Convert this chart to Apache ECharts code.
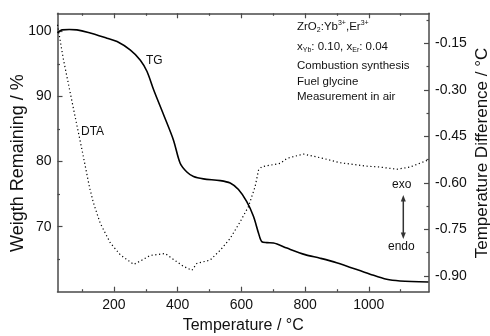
<!DOCTYPE html>
<html>
<head>
<meta charset="utf-8">
<style>
  html, body { margin: 0; padding: 0; background: #fff; }
  #chart { width: 490px; height: 336px; }
</style>
<script src="https://cdn.jsdelivr.net/npm/echarts@6/dist/echarts.min.js"></script>
</head>
<body>
<div id="chart"></div>
<script>
// TG: weight remaining (%) against temperature (°C)
var tgTemp = [23, 37, 60, 84, 120, 178, 210, 251, 283, 304, 325, 356, 387, 408, 429, 450, 481, 534, 565, 591, 617, 638, 654, 664, 680, 701, 743, 800, 847, 899, 1004, 1056, 1098, 1187];
var tgWeight = [99.8, 100.25, 100.3, 100.25, 99.85, 98.98, 98.46, 97.18, 95.6, 93.85, 91.0, 87.2, 83.3, 79.75, 78.4, 77.7, 77.35, 77.08, 76.7, 75.7, 73.85, 71.6, 69.0, 67.7, 67.55, 67.5, 66.7, 65.7, 65.15, 64.45, 62.7, 61.9, 61.65, 61.5];

// DTA: temperature difference (°C) against temperature (°C)
var dtaTemp = [23, 42, 74, 100, 124, 136, 157, 189, 220, 262, 283, 314, 361, 387, 418, 445, 460, 502, 534, 565, 596, 622, 643, 654, 664, 690, 722, 743, 795, 857, 910, 993, 1035, 1088, 1129, 1187];
var dtaDiff = [-0.09, -0.204, -0.365, -0.494, -0.617, -0.665, -0.73, -0.794, -0.832, -0.863, -0.852, -0.834, -0.828, -0.847, -0.869, -0.882, -0.86, -0.849, -0.817, -0.779, -0.726, -0.677, -0.613, -0.559, -0.548, -0.543, -0.537, -0.521, -0.507, -0.521, -0.535, -0.546, -0.549, -0.556, -0.549, -0.526];

// tick positions
var xMajorTicks = [200, 400, 600, 800, 1000];
var xMinorTicks = [100, 300, 500, 700, 900, 1100];
var yLeftMajorTicks = [70, 80, 90, 100];
var yLeftMinorTicks = [65, 75, 85, 95];
var yRightMajorTicks = [-0.90, -0.75, -0.60, -0.45, -0.30, -0.15];
var yRightMinorTicks = [-0.825, -0.675, -0.525, -0.375, -0.225, -0.075];

var FONT = 'Liberation Sans, Arial, Helvetica, sans-serif';
var AXIS_COLOR = '#4a4a4a';
var TEXT_COLOR = '#111';
var X_MIN = 23, X_MAX = 1189;
var YL_MIN = 60, YL_MAX = 102.8;
var YR_MIN = -0.951, YR_MAX = -0.053;

function zip(a, b) {
  var out = [];
  for (var i = 0; i < a.length; i++) out.push([a[i], b[i]]);
  return out;
}

function xAxisDef(position, ticks, len, withLine, withLabels, name) {
  return {
    type: 'value', position: position, min: X_MIN, max: X_MAX,
    name: name || '', nameLocation: 'middle', nameGap: 26,
    nameTextStyle: { fontFamily: FONT, fontSize: 16, color: TEXT_COLOR },
    axisLine: { show: withLine, onZero: false, lineStyle: { color: AXIS_COLOR, width: 1.5 } },
    axisTick: { show: true, inside: true, length: len, customValues: ticks, lineStyle: { color: AXIS_COLOR, width: 1.2 } },
    axisLabel: { show: withLabels, customValues: xMajorTicks, margin: 6, fontFamily: FONT, fontSize: 14, color: TEXT_COLOR,
                 formatter: function (v) { return String(v); } },
    splitLine: { show: false }
  };
}

function yAxisDef(position, min, max, ticks, labels, len, withLine, fmt) {
  return {
    type: 'value', position: position, min: min, max: max,
    axisLine: { show: withLine, onZero: false, lineStyle: { color: AXIS_COLOR, width: 1.5 } },
    axisTick: { show: true, inside: true, length: len, customValues: ticks, lineStyle: { color: AXIS_COLOR, width: 1.2 } },
    axisLabel: labels ? { show: true, customValues: labels, margin: 6, fontFamily: FONT, fontSize: 14, color: TEXT_COLOR, formatter: fmt } : { show: false },
    splitLine: { show: false }
  };
}

function label(x, y, text, size, extra) {
  var style = { text: text, font: size + 'px ' + FONT, fill: TEXT_COLOR, textAlign: 'left', textVerticalAlign: 'middle' };
  if (extra) for (var k in extra) style[k] = extra[k];
  return { type: 'text', x: x, y: y, style: style };
}

var richInfo = {
  m: { fontFamily: FONT, fontSize: 11.5, lineHeight: 14, fill: TEXT_COLOR },
  sb: { fontFamily: FONT, fontSize: 7, lineHeight: 7, verticalAlign: 'bottom', padding: [0, 0, 0, 0], fill: TEXT_COLOR },
  sp: { fontFamily: FONT, fontSize: 7, lineHeight: 7, verticalAlign: 'top', padding: [0, 0, 0, 0], fill: TEXT_COLOR }
};

var chart = echarts.init(document.getElementById('chart'), null, { renderer: 'canvas' });

var option = {
  animation: false,
  backgroundColor: '#fff',
  grid: { left: 57.5, right: 61, top: 13.3, bottom: 44.3, containLabel: false, outerBoundsMode: 'none' },
  xAxis: [
    xAxisDef('bottom', xMajorTicks, 5, true, true, 'Temperature / \u00B0C'),
    xAxisDef('bottom', xMinorTicks, 2.5, false, false),
    xAxisDef('top', xMajorTicks, 5, true, false),
    xAxisDef('top', xMinorTicks, 2.5, false, false)
  ],
  yAxis: [
    yAxisDef('left', YL_MIN, YL_MAX, yLeftMajorTicks, yLeftMajorTicks, 5, true, function (v) { return String(v); }),
    yAxisDef('left', YL_MIN, YL_MAX, yLeftMinorTicks, null, 2.5, false),
    yAxisDef('right', YR_MIN, YR_MAX, yRightMajorTicks, yRightMajorTicks, 5, true, function (v) { return v.toFixed(2); }),
    yAxisDef('right', YR_MIN, YR_MAX, yRightMinorTicks, null, 2.5, false)
  ],
  series: [
    {
      name: 'TG', type: 'line', xAxisIndex: 0, yAxisIndex: 0,
      data: zip(tgTemp, tgWeight), smooth: 0.3, symbol: 'none',
      lineStyle: { color: '#000', width: 1.6 }
    },
    {
      name: 'DTA', type: 'line', xAxisIndex: 0, yAxisIndex: 2,
      data: zip(dtaTemp, dtaDiff), smooth: false, symbol: 'none',
      lineStyle: { color: '#000', width: 1.2, type: [1.2, 2.6] }
    }
  ],
  graphic: [
    // vertical axis titles
    { type: 'text', x: 18, y: 163, rotation: Math.PI / 2,
      style: { text: 'Weigth Remaining / %', font: '18px ' + FONT, fill: TEXT_COLOR, textAlign: 'center', textVerticalAlign: 'middle' } },
    { type: 'text', x: 482, y: 153, rotation: Math.PI / 2,
      style: { text: 'Temperature Difference / \u00B0C', font: '17px ' + FONT, fill: TEXT_COLOR, textAlign: 'center', textVerticalAlign: 'middle' } },
    // curve labels
    label(146, 61, 'TG', 12),
    label(81, 132, 'DTA', 12),
    // sample description
    { type: 'text', x: 297, y: 20, style: { text: '{m|ZrO}{sb|2}{m|:Yb}{sp|3+}{m|,Er}{sp|3+}', rich: richInfo } },
    { type: 'text', x: 297, y: 40, style: { text: '{m|x}{sb|Yb}{m|: 0.10, x}{sb|Er}{m|: 0.04}', rich: richInfo } },
    label(297, 65.7, 'Combustion synthesis', 11.5),
    label(297, 81.7, 'Fuel glycine', 11.5),
    label(297, 96.7, 'Measurement in air', 11.5),
    // heat-flow direction marker
    label(392, 185, 'exo', 12),
    label(388, 246.5, 'endo', 12),
    { type: 'line', shape: { x1: 403.3, y1: 199, x2: 403.3, y2: 235 }, style: { stroke: '#333', lineWidth: 1.5 } },
    { type: 'polygon', shape: { points: [[403.3, 195], [400.8, 201.5], [405.8, 201.5]] }, style: { fill: '#333' } },
    { type: 'polygon', shape: { points: [[403.3, 239], [400.8, 232.5], [405.8, 232.5]] }, style: { fill: '#333' } }
  ]
};

chart.setOption(option);
</script>
</body>
</html>
